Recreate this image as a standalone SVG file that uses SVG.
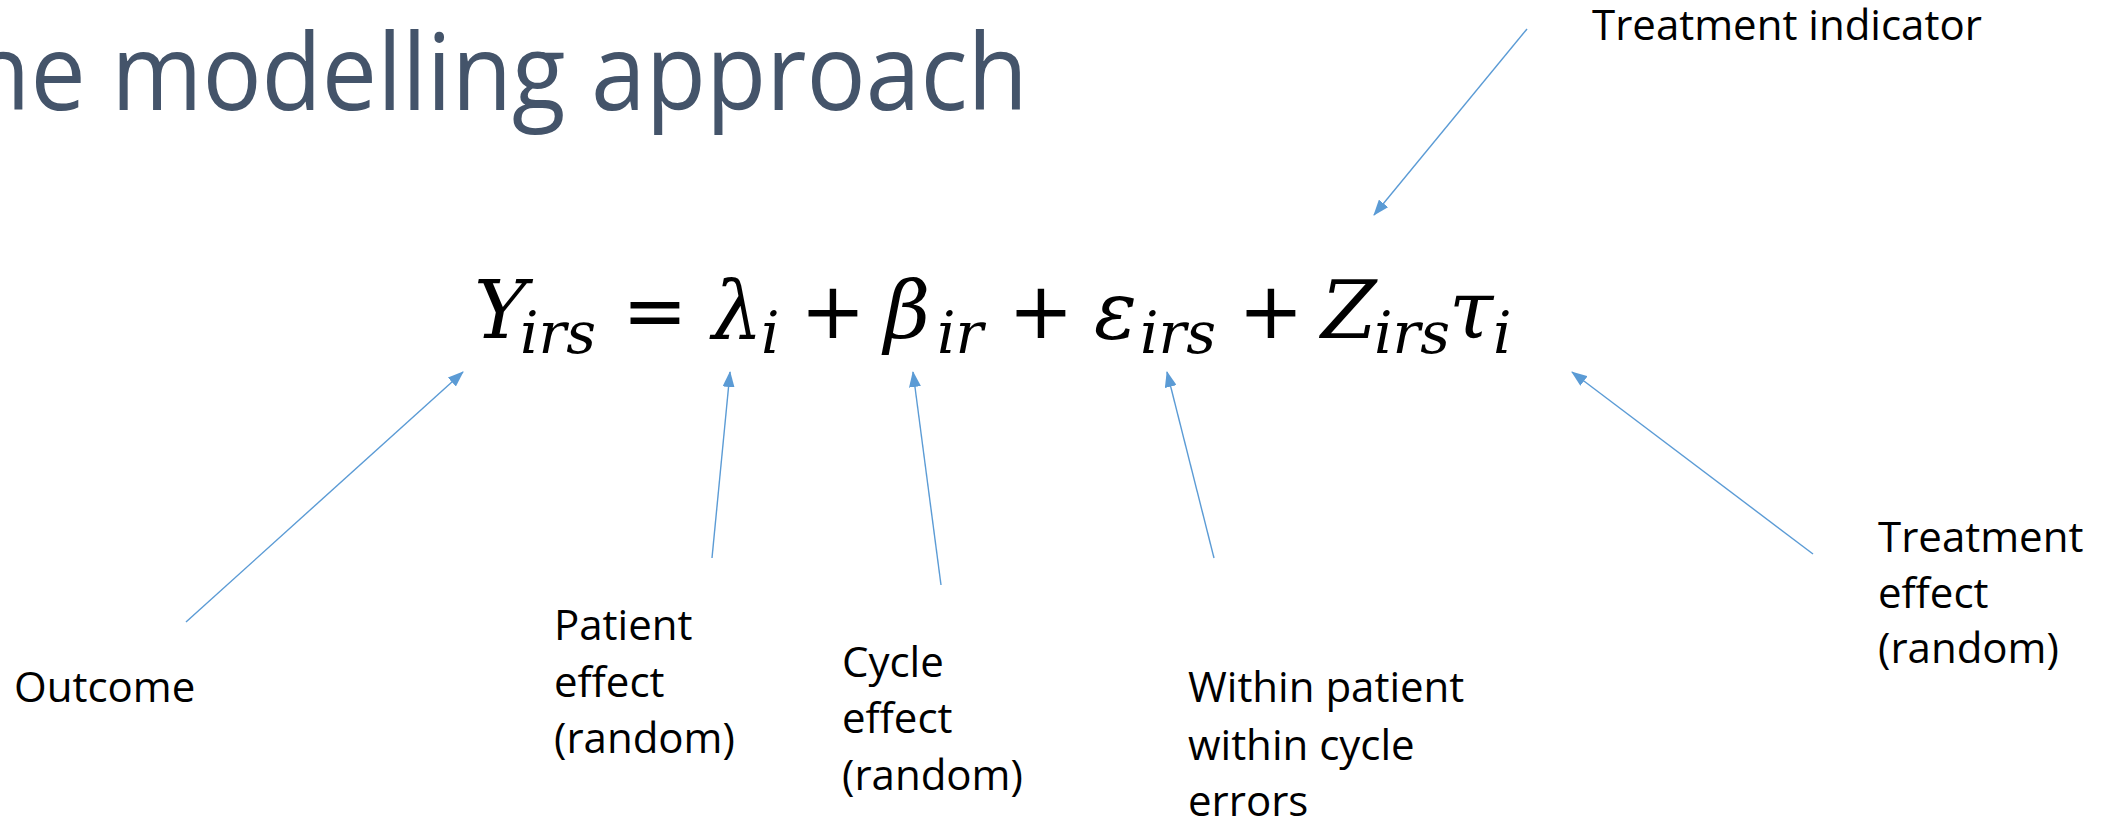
<svg xmlns="http://www.w3.org/2000/svg" width="2108" height="821" viewBox="0 0 2108 821">
<style>
.title{font-family:"Open Sans","Liberation Sans",sans-serif;font-weight:400;font-size:106px;fill:#44546A}
.lbl{font-family:"Open Sans","Liberation Sans",sans-serif;font-size:42px;fill:#000}
.m{font-family:"DejaVu Serif","Liberation Serif",serif;font-style:italic;font-size:80px;fill:#000}
.s{font-family:"DejaVu Serif","Liberation Serif",serif;font-style:italic;font-size:58px;fill:#000}
.op{font-family:"DejaVu Sans","Liberation Sans",sans-serif;font-size:78px;fill:#000;text-anchor:middle}
.arr{stroke:#5B9BD5;stroke-width:1.4;fill:none;marker-end:url(#ah)}
</style>
<defs>
<marker id="ah" markerUnits="userSpaceOnUse" markerWidth="16" markerHeight="12" refX="15" refY="6" orient="auto">
<path d="M0,0 L16,6 L0,12 z" fill="#5B9BD5"/>
</marker>
</defs>
<rect width="2108" height="821" fill="#fff"/>
<g id="title"><text class="title" x="-30" y="110" textLength="1058" lengthAdjust="spacingAndGlyphs">he modelling approach</text></g>
<g id="equation">
<text class="m" x="474" y="338">Y</text><text class="s" x="520" y="353">irs</text>
<text class="op" x="655" y="338">=</text>
<text class="m" x="712" y="338">λ</text><text class="s" x="761" y="353">i</text>
<text class="op" x="833" y="338">+</text>
<text class="m" x="884" y="338">β</text><text class="s" x="937" y="353">ir</text>
<text class="op" x="1041" y="338">+</text>
<text class="m" x="1094" y="338">ε</text><text class="s" x="1140" y="353">irs</text>
<text class="op" x="1271" y="338">+</text>
<text class="m" x="1321" y="338">Z</text><text class="s" x="1374" y="353">irs</text>
<text class="m" x="1449" y="338">τ</text><text class="s" x="1493" y="353">i</text>
</g>
<g id="treatment-indicator"><text class="lbl" x="1592" y="40">Treatment indicator</text></g>
<g id="outcome"><text class="lbl" x="14" y="702">Outcome</text></g>
<g id="patient-effect"><text class="lbl" x="554" y="640">Patient</text><text class="lbl" x="554" y="697">effect</text><text class="lbl" x="554" y="753">(random)</text></g>
<g id="cycle-effect"><text class="lbl" x="842" y="677">Cycle</text><text class="lbl" x="842" y="733">effect</text><text class="lbl" x="842" y="790">(random)</text></g>
<g id="within-errors"><text class="lbl" x="1188" y="702">Within patient</text><text class="lbl" x="1188" y="760">within cycle</text><text class="lbl" x="1188" y="816">errors</text></g>
<g id="treatment-effect"><text class="lbl" x="1878" y="552">Treatment</text><text class="lbl" x="1878" y="608">effect</text><text class="lbl" x="1878" y="663">(random)</text></g>
<g id="connectors">
<line class="arr" x1="186" y1="622" x2="463" y2="372"/>
<line class="arr" x1="712" y1="558" x2="730" y2="372"/>
<line class="arr" x1="941" y1="585" x2="913" y2="372"/>
<line class="arr" x1="1214" y1="558" x2="1167" y2="372"/>
<line class="arr" x1="1813" y1="554" x2="1572" y2="372"/>
<line class="arr" x1="1527" y1="29" x2="1374" y2="215"/>
</g>
</svg>
